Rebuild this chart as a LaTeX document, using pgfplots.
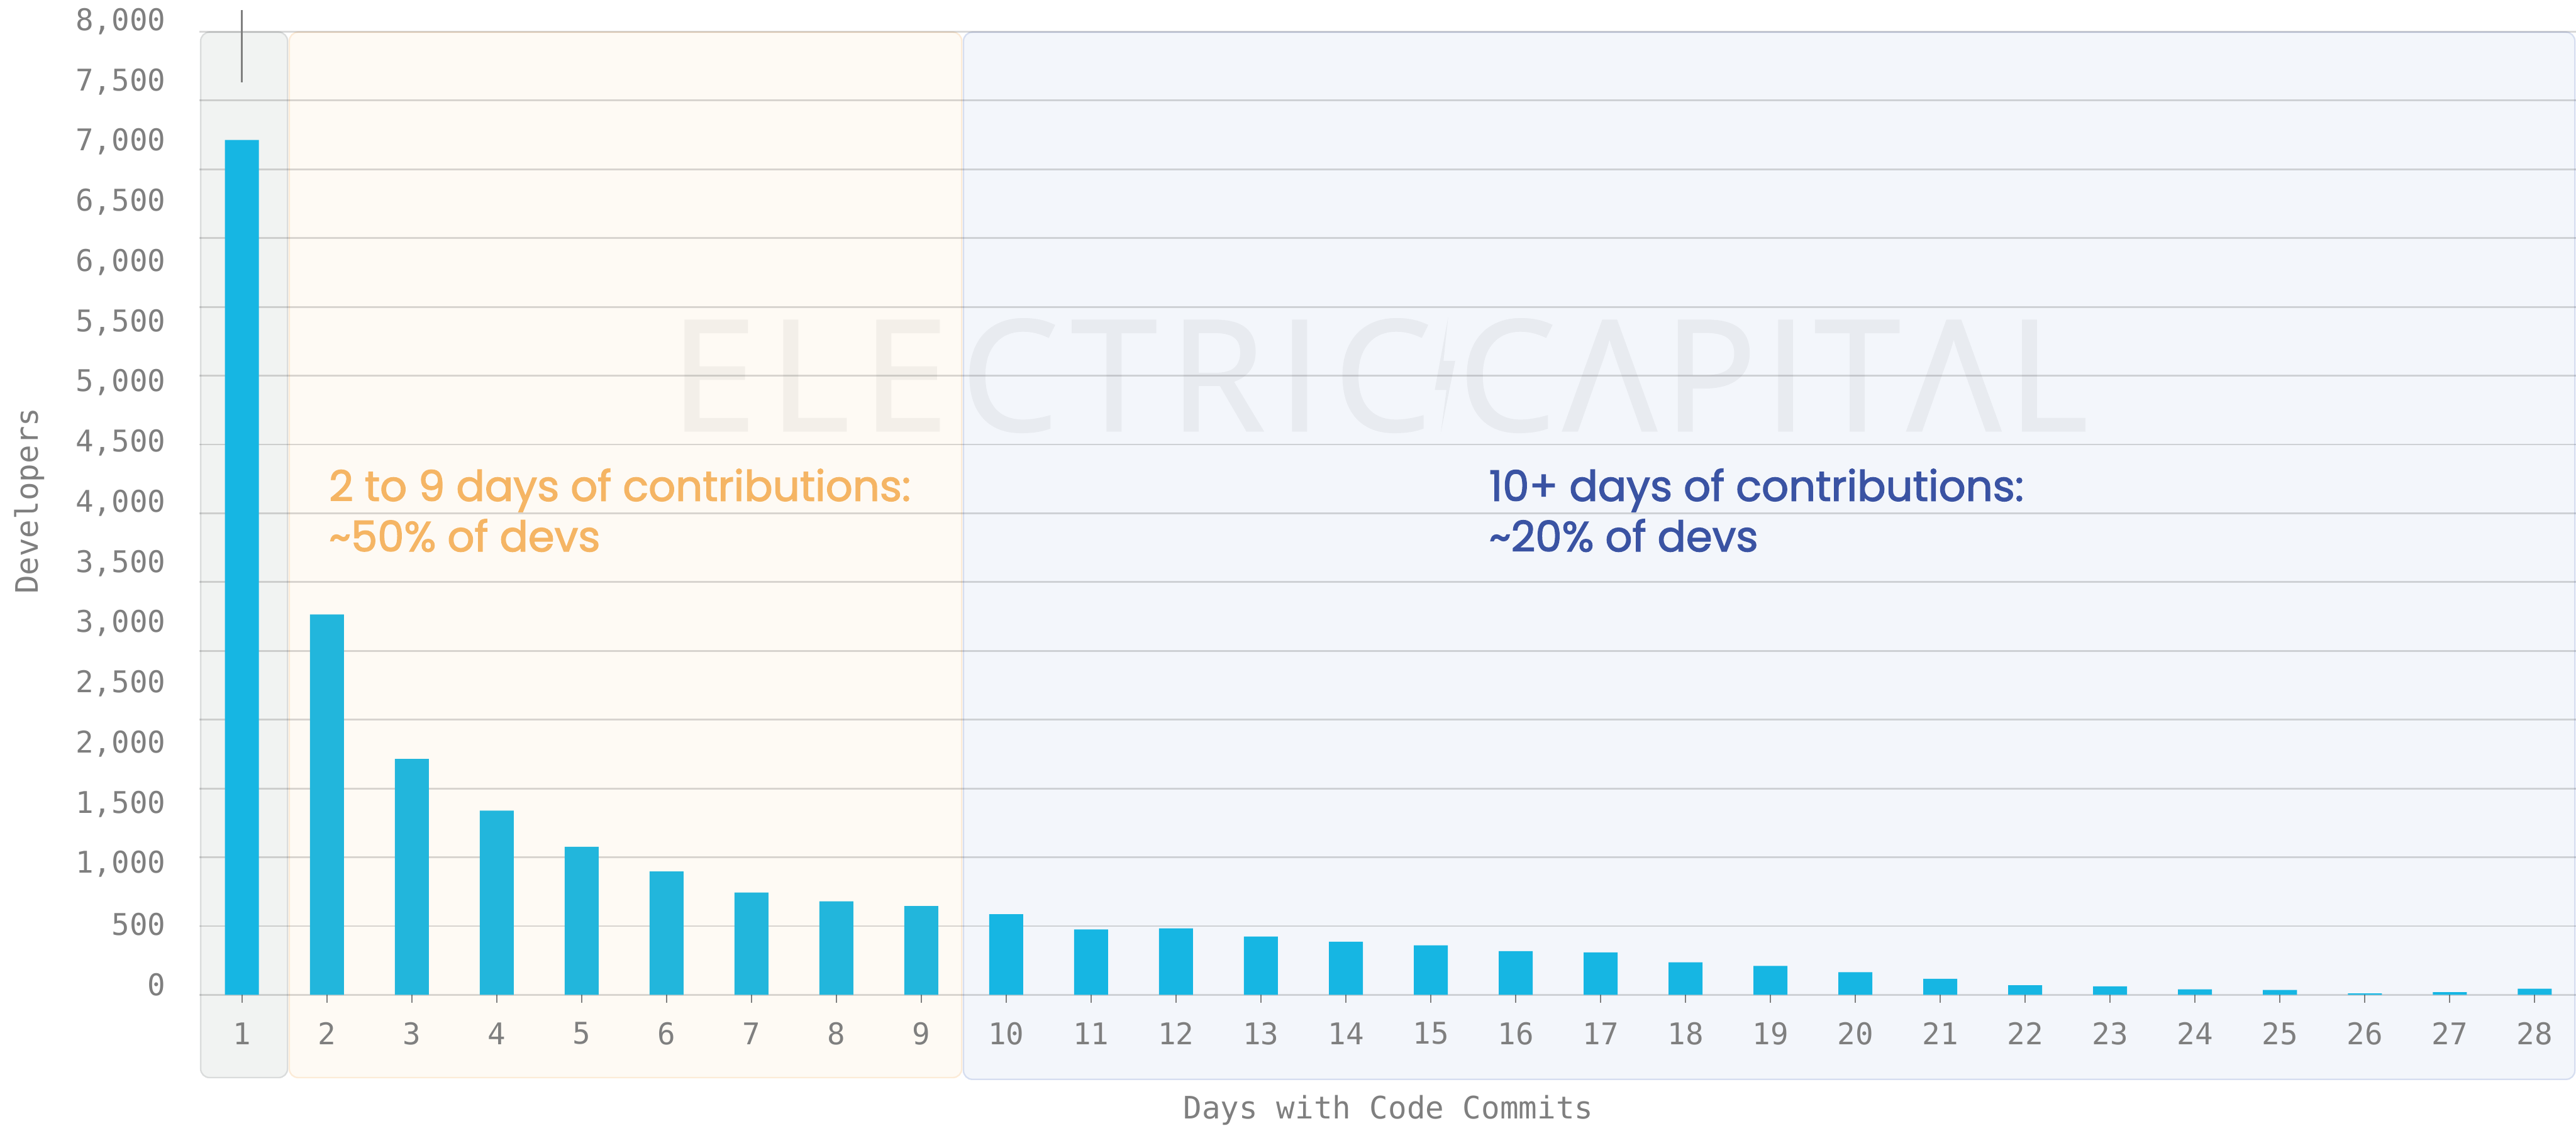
\documentclass[border=0pt]{standalone}
\usepackage{fontspec}
\setmainfont{DejaVu Sans}
\setmonofont{DejaVu Sans Mono}
\newfontfamily\annot{Poppins}[FakeBold=2]
\newfontfamily\wmA{Open Sans}[LetterSpace=8.6,FakeBold=1.5]
\newfontfamily\wmB{Open Sans}[LetterSpace=5,FakeBold=1.5]
\usepackage{pgfplots}
\pgfplotsset{compat=1.18}
\definecolor{barA}{HTML}{16B6E3}
\definecolor{barB}{HTML}{22B6DC}
\definecolor{boxgray}{HTML}{F1F3F2}
\definecolor{boxgrayedge}{HTML}{DADCDC}
\definecolor{boxorange}{HTML}{FEFAF4}
\definecolor{boxorangeedge}{HTML}{FCEBD7}
\definecolor{boxblue}{HTML}{F3F6FB}
\definecolor{boxblueedge}{HTML}{D6DEF0}
\definecolor{labelgray}{HTML}{7F7F7F}
\definecolor{annorange}{HTML}{F5B564}
\definecolor{annblue}{HTML}{3A53A3}
\begin{document}
\begin{tikzpicture}
\useasboundingbox (-34.0mm,-22.3mm) rectangle (405.0mm,169.6mm);
% background regions
\filldraw[fill=boxgray, draw=boxgrayedge, line width=0.25mm, rounded corners=1.5mm] (0.2mm,-14.1mm) rectangle (15.0mm,164.1mm);
\filldraw[fill=boxorange, draw=boxorangeedge, line width=0.25mm, rounded corners=1.5mm] (15.3mm,-14.1mm) rectangle (129.9mm,164.1mm);
\filldraw[fill=boxblue, draw=boxblueedge, line width=0.25mm, rounded corners=1.5mm] (130.2mm,-14.4mm) rectangle (404.8mm,164.1mm);
% watermark
\begin{scope}[transparency group, opacity=0.045]
\node[anchor=base east, inner sep=0pt, text=black, font=\wmA\fontsize{74.6}{80}\selectfont] at (210.0mm,96.2mm) {ELECTRIC};
\node[anchor=base west, inner sep=0pt, text=black, font=\wmB\fontsize{74.6}{80}\selectfont] at (214.5mm,96.2mm) {CΛPITΛL};
\fill[black] (212.8mm,115.6mm) -- (210.5mm,103.1mm) -- (212.5mm,103.1mm) -- (211.5mm,95.6mm) -- (214.0mm,108.1mm) -- (212.0mm,108.1mm) -- cycle;
\end{scope}
\begin{axis}[
  at={(0,0)}, anchor=south west,
  scale only axis, width=405.2mm, height=164.2mm,
  xmin=0.5, xmax=28.5, ymin=0, ymax=8000,
  clip=false,
  axis line style={draw=none},
  ybar, bar width=0.4, bar shift=0pt,
  xtick={1,...,28},
  xticklabels={1,2,3,4,5,6,7,8,9,10,11,12,13,14,15,16,17,18,19,20,21,22,23,24,25,26,27,28},
  xtick pos=bottom,
  tick align=outside,
  major tick length=1.3mm,
  xtick style={draw=labelgray, line width=0.25mm},
  ytick style={draw=none},
  xticklabel style={font=\ttfamily\fontsize{14.5}{17}\selectfont, text=labelgray, anchor=center, inner sep=0pt, yshift=-5.3mm},
  ytick={0,500,...,8000},
  yticklabels={0,500,{1,000},{1,500},{2,000},{2,500},{3,000},{3,500},{4,000},{4,500},{5,000},{5,500},{6,000},{6,500},{7,000},{7,500},{8,000}},
  yticklabel style={font=\ttfamily\fontsize{14.5}{17}\selectfont, text=labelgray, anchor=east, inner sep=0pt, xshift=-4.4mm, yshift=1.75mm},
  ymajorgrids=false,
  extra y ticks={0,571.43,1142.86,1714.29,2285.71,2857.14,3428.57,4000,4571.43,5142.86,5714.29,6285.71,6857.14,7428.57,8000},
  extra y tick labels={},
  extra y tick style={grid=major},
  major grid style={line width=0.3mm, draw=black, draw opacity=0.15},
  xlabel={Days with Code Commits},
  ylabel={Developers},
  xlabel style={font=\ttfamily\fontsize{15}{18}\selectfont, text=labelgray, at={(axis description cs:0.5,-0.12)}, anchor=center},
  ylabel style={font=\ttfamily\fontsize{15}{18}\selectfont, text=labelgray, at={(axis description cs:-0.0716,0.5128)}, anchor=center},
]
\addplot[ybar, bar width=0.4, bar shift=0pt, fill=barA, draw=none] coordinates {
(1,7100) (10,670) (11,543) (12,553) (13,485) (14,441) (15,412) (16,363) (17,353) (18,270) (19,241) (20,188) (21,134) (22,80) (23,71) (24,46) (25,41) (26,12) (27,22) (28,51)
};
\addplot[ybar, bar width=0.4, bar shift=0pt, fill=barB, draw=none] coordinates {
(2,3160) (3,1960) (4,1530) (5,1230) (6,1025) (7,850) (8,777) (9,738)
};
\end{axis}
% thin vertical marker above first bar
\draw[labelgray, line width=0.3mm] (7.2mm,155.6mm) -- (7.2mm,167.9mm);
% annotations
\node[anchor=base west, inner sep=0pt, text=annorange, font=\annot\fontsize{20.5}{24}\selectfont] at (22.0mm,84.2mm) {2 to 9 days of contributions:};
\node[anchor=base west, inner sep=0pt, text=annorange, font=\annot\fontsize{20.5}{24}\selectfont] at (22.0mm,75.6mm) {\textasciitilde 50\% of devs};
\node[anchor=base west, inner sep=0pt, text=annblue, font=\annot\fontsize{20.5}{24}\selectfont] at (219.7mm,84.2mm) {10+ days of contributions:};
\node[anchor=base west, inner sep=0pt, text=annblue, font=\annot\fontsize{20.5}{24}\selectfont] at (219.7mm,75.6mm) {\textasciitilde 20\% of devs};
\end{tikzpicture}
\end{document}
